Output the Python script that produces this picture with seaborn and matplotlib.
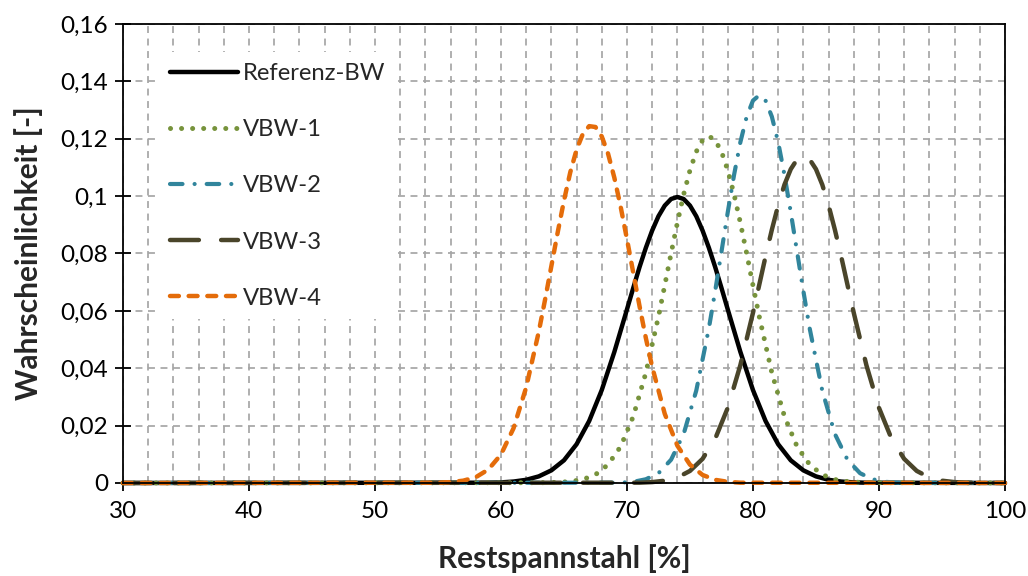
import matplotlib
matplotlib.use("Agg")
import matplotlib.pyplot as plt
import seaborn as sns
import pandas as pd
from matplotlib.ticker import MultipleLocator, FixedLocator, FixedFormatter

# --- Wahrscheinlichkeitsdichten der Restspannstahlanteile ---------------------
ref_x = [30, 59, 60, 61, 62, 63, 64, 65, 66, 67, 68, 69,
         70, 70.5, 71, 71.5, 72, 72.5, 73, 73.5, 74, 74.5, 75, 75.5, 76, 76.5, 77, 77.5, 78,
         79, 80, 81, 82, 83, 84, 85, 86, 87, 88, 89, 100]
ref_y = [0, 0.0001, 0.0002, 0.0005, 0.0011, 0.0023, 0.0044, 0.0079, 0.0135, 0.0216, 0.0324, 0.0457,
         0.0605, 0.0680, 0.0753, 0.0820, 0.0880, 0.0930, 0.0967, 0.0990, 0.0997, 0.0990, 0.0967,
         0.0930, 0.0880, 0.0820, 0.0753, 0.0680, 0.0605,
         0.0457, 0.0324, 0.0216, 0.0135, 0.0079, 0.0044, 0.0023, 0.0011, 0.0005, 0.0002, 0.0001, 0]

vbw1_x = [30, 63.5, 64.5, 65.5, 66.5, 67.5, 68.5, 69.5, 70.5, 71.5,
          72.5, 73, 73.5, 74, 74.5, 75, 75.5, 76, 76.5, 77, 77.5, 78, 78.5, 79, 79.5, 80, 80.5,
          81.5, 82.5, 83.5, 84.5, 85.5, 86.5, 87.5, 88.5, 89.5, 100]
vbw1_y = [0, 0.0001, 0.0002, 0.0005, 0.0012, 0.0029, 0.0064, 0.0127, 0.0232, 0.0384,
          0.0580, 0.0689, 0.0800, 0.0907, 0.1006, 0.1090, 0.1155, 0.1195, 0.1209, 0.1195, 0.1155,
          0.1090, 0.1006, 0.0907, 0.0800, 0.0689, 0.0580,
          0.0384, 0.0232, 0.0127, 0.0064, 0.0029, 0.0012, 0.0005, 0.0002, 0.0001, 0]

vbw2_x = [30, 69.5, 70.5, 71.5, 72.5, 73.5, 74.5, 75.5,
          76.5, 77, 77.5, 78, 78.5, 79, 79.5, 80, 80.5, 81, 81.5, 82, 82.5, 83, 83.5, 84, 84.5,
          85.5, 86.5, 87.5, 88.5, 89.5, 90.5, 91.5, 100]
vbw2_y = [0, 0.0001, 0.0004, 0.0013, 0.0034, 0.0081, 0.0171, 0.0322,
          0.0539, 0.0669, 0.0806, 0.0944, 0.1074, 0.1188, 0.1277, 0.1333, 0.1352, 0.1333, 0.1277,
          0.1188, 0.1074, 0.0944, 0.0806, 0.0669, 0.0539,
          0.0322, 0.0171, 0.0081, 0.0034, 0.0013, 0.0004, 0.0001, 0]

vbw3_x = [30, 71, 72, 73, 74, 75, 76, 77, 78, 79,
          80, 80.5, 81, 81.5, 82, 82.5, 83, 83.5, 84, 84.5, 85, 85.5, 86, 86.5, 87, 87.5, 88,
          89, 90, 91, 92, 93, 94, 95, 96, 97, 100]
vbw3_y = [0, 0.0001, 0.0003, 0.0008, 0.0019, 0.0042, 0.0084, 0.0154, 0.0262, 0.0411,
          0.0593, 0.0691, 0.0790, 0.0883, 0.0968, 0.1040, 0.1094, 0.1128, 0.1140, 0.1128, 0.1094,
          0.1040, 0.0968, 0.0883, 0.0790, 0.0691, 0.0593,
          0.0411, 0.0262, 0.0154, 0.0084, 0.0042, 0.0019, 0.0008, 0.0003, 0.0001, 0]

vbw4_x = [30, 55, 56, 57, 58, 59, 60, 61, 62,
          63, 63.5, 64, 64.5, 65, 65.5, 66, 66.5, 67, 67.5, 68, 68.5, 69, 69.5, 70, 70.5, 71, 71.5,
          72, 73, 74, 75, 76, 77, 78, 79, 100]
vbw4_y = [0, 0.0001, 0.0003, 0.0008, 0.0020, 0.0047, 0.0099, 0.0191, 0.0333,
          0.0527, 0.0639, 0.0756, 0.0873, 0.0984, 0.1083, 0.1162, 0.1217, 0.1244, 0.1241, 0.1208,
          0.1148, 0.1064, 0.0963, 0.0850, 0.0733, 0.0616, 0.0505,
          0.0405, 0.0241, 0.0130, 0.0064, 0.0028, 0.0011, 0.0004, 0.0001, 0]

series_names = ["Referenz-BW", "VBW-1", "VBW-2", "VBW-3", "VBW-4"]
series_x = [ref_x, vbw1_x, vbw2_x, vbw3_x, vbw4_x]
series_y = [ref_y, vbw1_y, vbw2_y, vbw3_y, vbw4_y]

y_ticks = [0, 0.02, 0.04, 0.06, 0.08, 0.10, 0.12, 0.14, 0.16]
y_tick_labels = ["0", "0,02", "0,04", "0,06", "0,08", "0,1", "0,12", "0,14", "0,16"]
x_ticks = [30, 40, 50, 60, 70, 80, 90, 100]
x_tick_labels = ["30", "40", "50", "60", "70", "80", "90", "100"]

# --- Linienstile ------------------------------------------------------------------
colors = ["#000000", "#77933C", "#31859C", "#4A452A", "#E46C0A"]
widths = [3.2, 3.6, 3.0, 3.2, 3.2]
dash_patterns = [None, (0.01, 2.2), (3.0, 2.9, 0.01, 2.9), (6.5, 5.0), (2.0, 2.2)]

sns.set_style("white")
plt.rcParams["font.family"] = ["Lato", "DejaVu Sans"]

fig = plt.figure(figsize=(10.28, 5.76), dpi=100)
ax = fig.add_axes([0.1196, 0.1615, 0.858, 0.7968])

for name, xs, ys, col, lw, dp in zip(series_names, series_x, series_y, colors, widths, dash_patterns):
    df = pd.DataFrame({"x": xs, "y": ys})
    sns.lineplot(data=df, x="x", y="y", ax=ax, color=col, linewidth=lw,
                 estimator=None, label=name, clip_on=False)
    line = ax.lines[-1]
    if dp is not None:
        line.set_linestyle((0, dp))
    line.set_dash_capstyle("round")
    line.set_solid_capstyle("round")

ax.set_xlim(30, 100)
ax.set_ylim(0, 0.16)
ax.xaxis.set_major_locator(FixedLocator(x_ticks))
ax.xaxis.set_major_formatter(FixedFormatter(x_tick_labels))
ax.xaxis.set_minor_locator(MultipleLocator(2))
ax.yaxis.set_major_locator(FixedLocator(y_ticks))
ax.yaxis.set_major_formatter(FixedFormatter(y_tick_labels))

grid_kw = dict(color="#A6A6A6", linewidth=1.25, linestyle=(0, (4, 3.2)))
ax.grid(True, axis="x", which="both", **grid_kw)
ax.grid(True, axis="y", which="major", **grid_kw)
ax.set_axisbelow(True)

for sp in ax.spines.values():
    sp.set_visible(True)
    sp.set_color("black")
    sp.set_linewidth(1.3)

ax.tick_params(axis="y", which="major", direction="inout", length=11, width=1.3,
               labelsize=17.5, colors="black", pad=5, left=True)
ax.tick_params(axis="x", which="major", direction="out", length=6, width=1.3,
               labelsize=17.5, colors="black", pad=7, bottom=True)
ax.tick_params(axis="x", which="minor", length=0)

ax.set_xlabel("Restspannstahl [%]", fontsize=21.5, fontweight="bold", labelpad=16)
ax.set_ylabel("Wahrscheinlichkeit [-]", fontsize=21.5, fontweight="bold", labelpad=13)

leg = ax.legend(loc="upper left", bbox_to_anchor=(0.0415, 0.938), borderaxespad=0,
                frameon=True, fancybox=False, framealpha=1, facecolor="white",
                edgecolor="white", fontsize=17.2, handlelength=2.85, handletextpad=0.2,
                labelspacing=1.47, borderpad=0.45)
leg.get_frame().set_linewidth(0)

fig.savefig("out.png", dpi=100)
